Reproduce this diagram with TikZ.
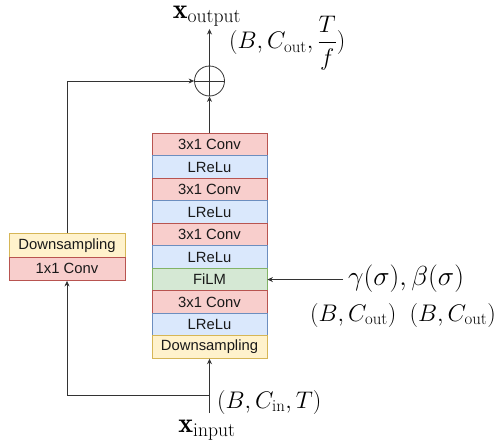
\RequirePackage{fix-cm}
\documentclass[tikz,border=0pt]{standalone}
\usepackage{amsmath}
\usepackage{fontspec}
\setsansfont{Liberation Sans}
\usetikzlibrary{arrows.meta}

\definecolor{convfill}{HTML}{F8CECC}
\definecolor{convline}{HTML}{B85450}
\definecolor{actfill}{HTML}{DAE8FC}
\definecolor{actline}{HTML}{6C8EBF}
\definecolor{filmfill}{HTML}{D5E8D4}
\definecolor{filmline}{HTML}{82B366}
\definecolor{dsfill}{HTML}{FFF2CC}
\definecolor{dsline}{HTML}{D6B656}
\definecolor{wire}{HTML}{333333}

\tikzset{
  layer/.style={draw, line width=0.8pt, minimum width=115pt, minimum height=22.5pt,
    inner sep=0pt, font=\sffamily\fontsize{14.8}{16}\selectfont, text=black!90},
  sidelayer/.style={layer, minimum width=116pt, minimum height=23.5pt},
  conv/.style={fill=convfill, draw=convline},
  act/.style={fill=actfill, draw=actline},
  film/.style={fill=filmfill, draw=filmline},
  down/.style={fill=dsfill, draw=dsline},
  arr/.style={draw=wire, line width=0.8pt, -{Stealth[length=5.5pt,width=5pt]}},
  wireline/.style={draw=wire, line width=0.8pt},
  mathlbl/.style={inner sep=0pt, font=\fontsize{24}{28}\selectfont},
  biglbl/.style={inner sep=0pt, font=\fontsize{28}{32}\selectfont},
  condlbl/.style={inner sep=0pt, font=\fontsize{27.5}{32}\selectfont},
}

\begin{document}
\begin{tikzpicture}[x=1pt, y=-1pt]
  \useasboundingbox (0,0) rectangle (496,442);

  % main block: stack of layers
  \node[layer, conv] (c1) at (209.5,144.55) {3x1 Conv};
  \node[layer, act]  (r1) at (209.5,167.05) {LReLu};
  \node[layer, conv] (c2) at (209.5,189.55) {3x1 Conv};
  \node[layer, act]  (r2) at (209.5,212.05) {LReLu};
  \node[layer, conv] (c3) at (209.5,234.55) {3x1 Conv};
  \node[layer, act]  (r3) at (209.5,257.05) {LReLu};
  \node[layer, film] (fm) at (209.5,279.55) {FiLM};
  \node[layer, conv] (c4) at (209.5,302.05) {3x1 Conv};
  \node[layer, act]  (r4) at (209.5,324.55) {LReLu};
  \node[layer, down] (ds) at (209.5,347.05) {Downsampling};

  % residual branch
  \node[sidelayer, down] (lds) at (67,245.25) {Downsampling};
  \node[sidelayer, conv] (lcv) at (67,268.75) {1x1 Conv};

  % summation
  \node[circle, wireline, minimum size=30pt, inner sep=0pt] (sum) at (209.5,81) {};
  \draw[wireline] (sum.north) -- (sum.south) (sum.west) -- (sum.east);

  % wire end points
  \coordinate (in) at (209.5,413);
  \coordinate (split) at (209.5,395);
  \coordinate (out) at (209.5,29);
  \coordinate (cond) at (343,279.55);

  % connectors
  \draw[arr] (in) -- (ds.south);
  \draw[arr] (split) -| (lcv.south);
  \draw[arr] (lds.north) |- (sum.west);
  \draw[arr] (c1.north) -- (sum.south);
  \draw[arr] (sum.north) -- (out);
  \draw[arr] (cond) -- (fm.east);

  % labels
  \node[biglbl, anchor=base] (xout) at (207,18) {$\mathbf{x}_{\mathrm{output}}$};
  \node[mathlbl, anchor=west] (shout) at (229,43) {$(B, C_{\mathrm{out}}, \dfrac{T}{f})$};
  \node[biglbl, anchor=base] (xin) at (207,432) {$\mathbf{x}_{\mathrm{input}}$};
  \node[mathlbl, anchor=west] (shin) at (217,402) {$(B, C_{\mathrm{in}}, T)$};
  \node[condlbl, anchor=west] (gb) at (348,279) {$\gamma(\sigma), \beta(\sigma)$};
  \node[mathlbl, anchor=west] (gbshape) at (310,315) {$(B, C_{\mathrm{out}})\;\;(B, C_{\mathrm{out}})$};
\end{tikzpicture}
\end{document}
